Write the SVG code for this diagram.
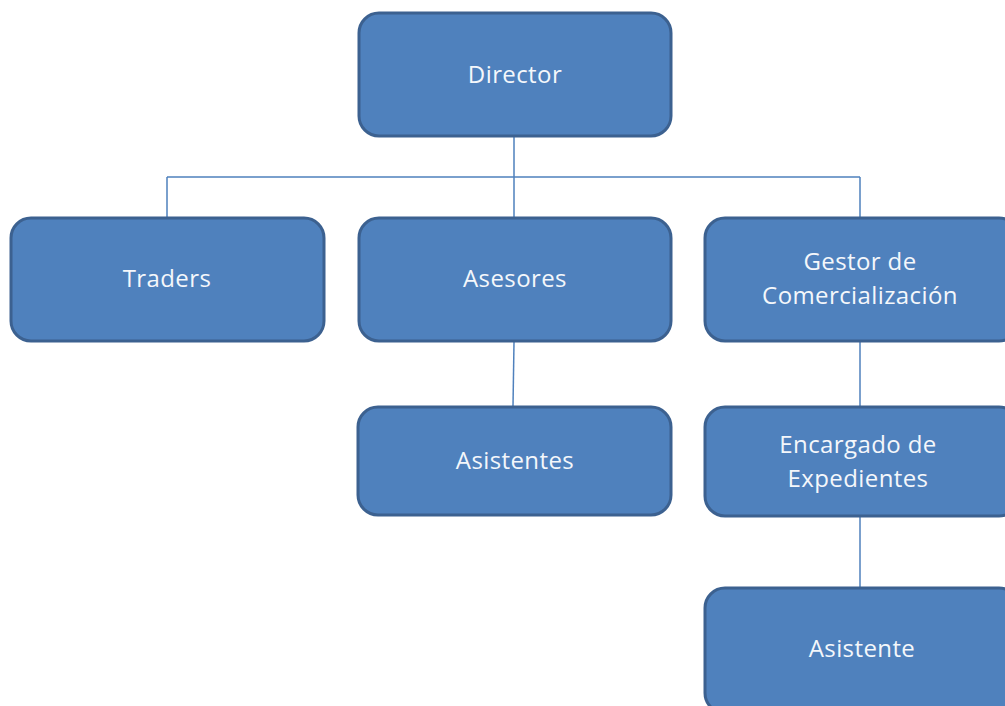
<svg xmlns="http://www.w3.org/2000/svg" width="1005" height="706" viewBox="0 0 1005 706">
<style>
.box{fill:#4F81BD;stroke:#3C6190;stroke-width:3}
.lbl{font-family:"Open Sans","Liberation Sans",sans-serif;font-size:24px;letter-spacing:0.4px;fill:#F4F7FB;text-anchor:middle}
.con{stroke:#4F81BD;stroke-width:1.5;fill:none}
</style>
<rect width="1005" height="706" fill="#FFFFFF"/>
<g id="connectors">
<path class="con" d="M514 137 V177 M167 177 H860 M167 177 V217 M514 177 V217 M860 177 V217"/>
<path class="con" d="M514 342 L513 406"/>
<path class="con" d="M860 342 V406"/>
<path class="con" d="M860 517 V588"/>
</g>
<g id="director"><rect class="box" x="359" y="13" width="312" height="123" rx="20"/><text class="lbl" x="515" y="83">Director</text></g>
<g id="traders"><rect class="box" x="11" y="218" width="313" height="123" rx="20"/><text class="lbl" x="167" y="287">Traders</text></g>
<g id="asesores"><rect class="box" x="359" y="218" width="312" height="123" rx="20"/><text class="lbl" x="515" y="287">Asesores</text></g>
<g id="gestor"><rect class="box" x="705" y="218" width="314" height="123" rx="20"/><text class="lbl" x="860" y="270">Gestor de</text><text class="lbl" x="860" y="304">Comercialización</text></g>
<g id="asistentes"><rect class="box" x="358" y="407" width="313" height="108" rx="20"/><text class="lbl" x="515" y="469">Asistentes</text></g>
<g id="encargado"><rect class="box" x="705" y="407" width="314" height="109" rx="20"/><text class="lbl" x="858" y="453">Encargado de</text><text class="lbl" x="858" y="487">Expedientes</text></g>
<g id="asistente"><rect class="box" x="705" y="588" width="314" height="125" rx="20"/><text class="lbl" x="862" y="657">Asistente</text></g>
</svg>
